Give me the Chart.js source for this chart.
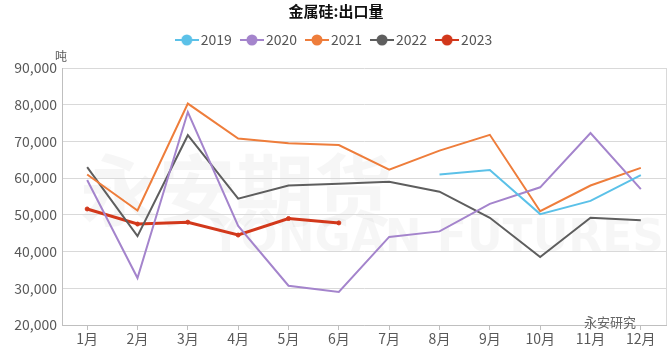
<!DOCTYPE html>
<html>
<head>
<meta charset="utf-8">
<script src="https://cdn.jsdelivr.net/npm/chart.js@4/dist/chart.umd.min.js"></script>
<style>
  html, body { margin: 0; padding: 0; background: #fff; }
  #wrap { width: 670px; height: 352px; }
</style>
</head>
<body>
<div id="wrap"><canvas id="exports"></canvas></div>
<script>
const months = ["1月", "2月", "3月", "4月", "5月", "6月", "7月", "8月", "9月", "10月", "11月", "12月"];
const y2019 = [null, null, null, null, null, null, null, 61000, 62200, 50200, 53800, 60800];
const y2020 = [59500, 32800, 78000, 47000, 30700, 29000, 44000, 45500, 53000, 57500, 72300, 57000];
const y2021 = [61000, 51200, 80300, 70800, 69500, 69000, 62300, 67500, 71800, 51000, 58000, 62800];
const y2022 = [63000, 44200, 71700, 54400, 58000, 58500, 59000, 56300, 49200, 38500, 49200, 48500];
const y2023 = [51600, 47500, 48000, 44500, 49000, 47800];
const yTicks = [20000, 30000, 40000, 50000, 60000, 70000, 80000, 90000];

const font = "'Noto Sans CJK SC', 'Noto Sans', sans-serif";

// legend marker: short line with a circle on it
function marker(color) {
    const c = document.createElement("canvas");
    c.width = 24; c.height = 14;
    const g = c.getContext("2d");
    g.strokeStyle = color; g.lineWidth = 2;
    g.beginPath(); g.moveTo(0, 7); g.lineTo(24, 7); g.stroke();
    g.fillStyle = color;
    g.beginPath(); g.arc(12, 7, 5.5, 0, Math.PI * 2); g.fill();
    return c;
}

function series(label, data, color, width) {
    return {
        label: label,
        data: data,
        borderColor: color,
        backgroundColor: color,
        borderWidth: width,
        pointRadius: label === "2023" ? 2 : 0,
        pointBorderWidth: 1,
        pointHoverRadius: 3,
        pointStyle: "circle",
        tension: 0,
        spanGaps: false
    };
}

const extras = {
    id: "extras",
    beforeInit(chart) {
        const lg = chart.legend;
        const fit = lg.fit;
        lg.fit = function () { fit.call(lg); lg.height += 11; };
    },
    beforeDraw(chart) {
        const g = chart.ctx;
        g.save();
        // faint watermark
        g.fillStyle = "rgba(0,0,0,0.035)";
        g.font = "bold 78px " + font;
        g.textBaseline = "middle";
        g.fillText("永安期货", 80, 190);
        g.font = "bold 44px 'DejaVu Sans', sans-serif";
        g.fillText("YONGAN FUTURES", 210, 240);
        g.restore();
    },
    afterDraw(chart) {
        const a = chart.chartArea, g = chart.ctx;
        g.save();
        g.strokeStyle = "#d9d9d9";
        g.lineWidth = 1;
        g.beginPath();
        g.moveTo(a.right + 0.5, a.top);
        g.lineTo(a.right + 0.5, a.bottom);
        g.stroke();
        g.fillStyle = "#595959";
        g.font = "12px " + font;
        g.textAlign = "left";
        g.textBaseline = "bottom";
        g.fillText("吨", a.left - 7, a.top - 6);
        g.fillStyle = "#666";
        g.font = "13px " + font;
        g.textBaseline = "middle";
        g.fillText("永安研究", 584, 322);
        g.restore();
    }
};

new Chart(document.getElementById("exports"), {
    type: "line",
    data: {
        labels: months,
        datasets: [
            series("2019", y2019, "#5BC1E8", 2),
            series("2020", y2020, "#A484CC", 2),
            series("2021", y2021, "#EE7D3B", 2),
            series("2022", y2022, "#5E5E5E", 2),
            series("2023", y2023, "#D2381B", 3)
        ]
    },
    options: {
        responsive: true,
        maintainAspectRatio: false,
        animation: false,
        layout: { padding: { left: 4, right: 2, top: 2, bottom: 0 } },
        plugins: {
            title: {
                display: true,
                text: "金属硅:出口量",
                color: "#111",
                font: { family: font, size: 15, weight: "bold" },
                padding: { top: 0, bottom: 0 }
            },
            legend: {
                labels: {
                    usePointStyle: true,
                    color: "#555",
                    font: { family: font, size: 14 },
                    boxWidth: 24,
                    boxHeight: 14,
                    padding: 13,
                    generateLabels(chart) {
                        const items = Chart.defaults.plugins.legend.labels.generateLabels(chart);
                        items.forEach(it => {
                            it.pointStyle = marker(chart.data.datasets[it.datasetIndex].borderColor);
                        });
                        return items;
                    }
                }
            },
            tooltip: { enabled: false }
        },
        scales: {
            x: {
                offset: true,
                afterFit(scale) { scale.height = 27; },
                grid: { display: true, drawOnChartArea: false, offset: false, tickLength: 5, color: "#bfbfbf" },
                border: { color: "#bfbfbf" },
                ticks: { color: "#595959", font: { family: font, size: 14 }, padding: 0, maxRotation: 0, autoSkip: false }
            },
            y: {
                min: yTicks[0],
                max: yTicks[yTicks.length - 1],
                afterBuildTicks(scale) { scale.ticks = yTicks.map(v => ({ value: v })); },
                afterFit(scale) { scale.width = 58; },
                grid: { color: "#d9d9d9", drawTicks: false },
                border: { color: "#bfbfbf" },
                ticks: { color: "#595959", font: { family: font, size: 14 }, padding: 5 }
            }
        }
    },
    plugins: [extras]
});
</script>
</body>
</html>
